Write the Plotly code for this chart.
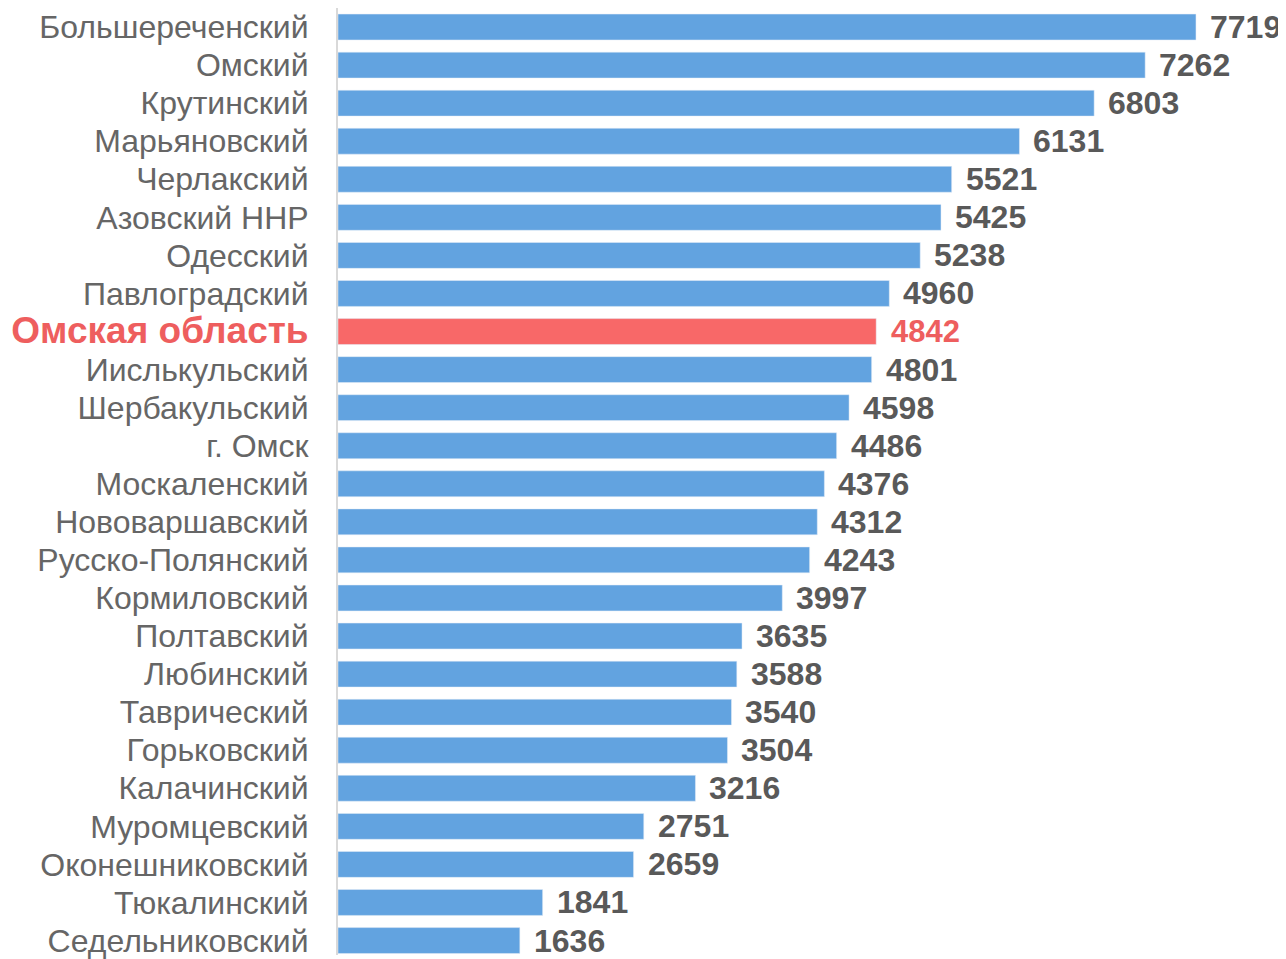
import plotly.graph_objects as go

districts = ["Большереченский", "Омский", "Крутинский", "Марьяновский", "Черлакский",
             "Азовский ННР", "Одесский", "Павлоградский", "Омская область", "Иислькульский",
             "Шербакульский", "г. Омск", "Москаленский", "Нововаршавский", "Русско-Полянский",
             "Кормиловский", "Полтавский", "Любинский", "Таврический", "Горьковский",
             "Калачинский", "Муромцевский", "Оконешниковский", "Тюкалинский", "Седельниковский"]
values = [7719, 7262, 6803, 6131, 5521, 5425, 5238, 4960, 4842, 4801,
          4598, 4486, 4376, 4312, 4243, 3997, 3635, 3588, 3540, 3504,
          3216, 2751, 2659, 1841, 1636]
highlight = "Омская область"

BLUE = "#62A3E0"
RED = "#F86868"
GRAY = "#666666"
VAL_GRAY = "#595959"
RED_TXT = "#EE5E5E"
FONT = "Liberation Sans, Arial, sans-serif"

colors = [RED if d == highlight else BLUE for d in districts]
fig = go.Figure(go.Bar(x=values, y=districts, orientation="h", marker_color=colors,
                       width=0.68, hoverinfo="skip"))

for d, v in zip(districts, values):
    hl = d == highlight
    fig.add_annotation(x=v, y=d, text=f"<b>{v}</b>", showarrow=False, xanchor="left",
                       xshift=13 if hl else 12, yshift=0,
                       font=dict(size=31 if hl else 32, color=RED_TXT if hl else VAL_GRAY,
                                 family=FONT))

ticktext = [f'<span style="color:{RED_TXT};font-size:37px"><b>{d}</b></span>' if d == highlight else d
            for d in districts]
fig.update_yaxes(type="category", categoryorder="array", categoryarray=districts,
                 range=[24.38, -0.5], tickmode="array", tickvals=districts, ticktext=ticktext,
                 ticks="", showline=True, linecolor="#D9D9D9", linewidth=2, ticklabelstandoff=21,
                 tickfont=dict(size=32, color=GRAY, family=FONT),
                 showgrid=False)
fig.update_xaxes(range=[0, 8529], visible=False, showgrid=False, zeroline=False)
fig.update_layout(width=1278, height=951, margin=dict(l=330, r=0, t=0, b=0),
                  plot_bgcolor="white", paper_bgcolor="white", showlegend=False)
fig.write_html("out.html")
